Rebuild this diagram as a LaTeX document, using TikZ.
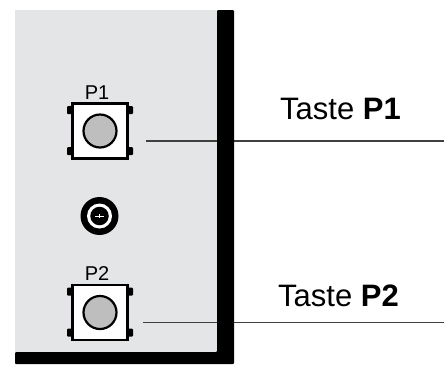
\documentclass[tikz,border=0pt]{standalone}
\usepackage{fontspec}
\setmainfont{Liberation Sans}
\usetikzlibrary{positioning}
\definecolor{panelgray}{HTML}{E4E5E7}
\definecolor{capgray}{HTML}{BEBEBE}
\definecolor{linegray}{HTML}{404040}
\tikzset{
	tastebox/.style={draw=black, line width=2.2pt, fill=white, minimum size=55pt, inner sep=0pt},
	tastecap/.style={circle, draw=black, line width=2.2pt, fill=capgray, minimum size=33pt, inner sep=0pt},
	tastepin/.style={fill=black, rounded corners=1pt, minimum width=7pt, minimum height=8pt, inner sep=0pt},
	tastename/.style={font=\fontsize{20}{20}\selectfont, inner sep=0pt, anchor=base},
	callout/.style={font=\fontsize{31}{31}\selectfont, inner sep=0pt, anchor=base west},
	leader/.style={draw=linegray, line width=1.2pt},
}
\begin{document}
\begin{tikzpicture}[x=1pt, y=-1pt]
	\useasboundingbox (0, 0) rectangle (444, 365);
	\fill[panelgray] (15, 10) rectangle (217, 352);

	% leaders run behind the black frame
	\coordinate (endA) at (444, 141);
	\coordinate (endB) at (444, 322.5);
	\coordinate (startA) at (146, 141);
	\coordinate (startB) at (143, 322.5);
	\draw[leader] (startA) -- (endA);
	\draw[leader] (startB) -- (endB);

	\fill[black, rounded corners=1pt] (217, 10) -- (234, 10) -- (234, 364) -- (15, 364) -- (15, 352) -- (217, 352) -- cycle;

	\foreach \name/\y in {P1/131, P2/312.5} {
		\node[tastepin] (\name pinA) at (70.5, \y - 21) {};
		\node[tastepin] (\name pinB) at (70.5, \y + 20) {};
		\node[tastepin] (\name pinC) at (129.5, \y - 21) {};
		\node[tastepin] (\name pinD) at (129.5, \y + 20) {};
		\node[tastebox] (\name) at (100, \y) {};
		\node[tastecap] (\name cap) at (\name) {};
	}
	\node[tastename] (nameA) at (97, 99) {P1};
	\node[tastename] (nameB) at (97, 280) {P2};

	% screw between the keys
	\node[circle, fill=black, minimum size=38pt, inner sep=0pt] (screw) at (99.5, 216) {};
	\node[circle, fill=white, minimum size=25pt, inner sep=0pt] (screwring) at (screw) {};
	\node[circle, fill=black, minimum size=18.5pt, inner sep=0pt] (screwhead) at (screw) {};
	\draw[white, line width=1pt] (95, 216) -- (104, 216);
	\draw[white, line width=1pt] (99.5, 214) -- (99.5, 218);

	\node[callout] (labelA) at (280, 119) {Taste \textbf{P1}};
	\node[callout] (labelB) at (278, 306) {Taste \textbf{P2}};
\end{tikzpicture}
\end{document}
